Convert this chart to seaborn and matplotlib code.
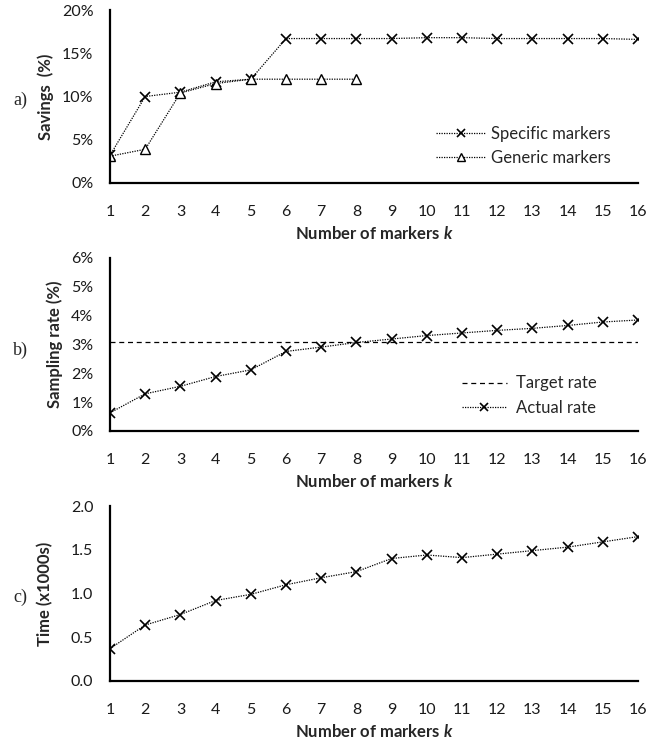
import numpy as np
import pandas as pd
import matplotlib
matplotlib.use("Agg")
import matplotlib.pyplot as plt
from matplotlib.lines import Line2D
from matplotlib.ticker import PercentFormatter, MultipleLocator, FormatStrFormatter
import seaborn as sns

# Données
k = list(range(1, 17))
specific_savings = [3.2, 10.0, 10.5, 11.7, 12.0, 16.7, 16.7, 16.7, 16.7, 16.8, 16.8, 16.7, 16.7, 16.7, 16.7, 16.6]
k_generic = list(range(1, 9))
generic_savings = [3.1, 3.9, 10.4, 11.5, 12.0, 12.0, 12.0, 12.0]
target_rate = 3.1
actual_rate = [0.63, 1.29, 1.55, 1.89, 2.12, 2.76, 2.91, 3.07, 3.19, 3.31, 3.40, 3.49, 3.56, 3.66, 3.78, 3.85]
time_k = [0.37, 0.64, 0.76, 0.92, 0.99, 1.10, 1.18, 1.25, 1.40, 1.44, 1.41, 1.45, 1.49, 1.53, 1.59, 1.65]

sns.set_theme(style="white")
plt.rcParams['font.family'] = ['Lato', 'DejaVu Sans']
plt.rcParams['mathtext.fontset'] = 'custom'
plt.rcParams['mathtext.bf'] = 'Lato:bold'
plt.rcParams['mathtext.bfit'] = 'Lato:bold:italic'

dotted = (0, (1, 1))
dashed = (0, (4, 3))
fig = plt.figure(figsize=(6.62, 7.41), dpi=100)

W, H = 662, 741
def add_axes(top, bottom, left=110, right=638):
    return fig.add_axes([left / W, (H - bottom) / H, (right - left) / W, (bottom - top) / H])

ax_a = add_axes(10, 183)
ax_b = add_axes(258, 431)
ax_c = add_axes(506, 681)

def style_axis(ax, ymax, ystep, ylabel, lab_x):
    ax.set_xlim(1, 16)
    ax.set_ylim(0, ymax)
    ax.xaxis.set_major_locator(MultipleLocator(1))
    ax.yaxis.set_major_locator(MultipleLocator(ystep))
    for s in ['top', 'right']:
        ax.spines[s].set_visible(False)
    for s in ['left', 'bottom']:
        ax.spines[s].set_color('black')
        ax.spines[s].set_linewidth(1.6)
    ax.tick_params(axis='both', direction='in', length=4, width=1, color='black',
                   labelsize=11.5, labelcolor='#1a1a1a')
    ax.tick_params(axis='x', pad=15.5)
    ax.tick_params(axis='y', pad=12)
    ax.set_xlabel(r"Number of markers $\mathbfit{k}$", fontsize=12, fontweight='bold', labelpad=5)
    ax.set_ylabel(ylabel, fontsize=12, fontweight='bold')
    ax.yaxis.set_label_coords(lab_x, 0.5)
    ax.grid(False)

line_kw = dict(color='black', linestyle=dotted, linewidth=0.9)
x_kw = dict(marker='x', markersize=7, markeredgewidth=1.2, markeredgecolor='black')

# a) Savings
sns.lineplot(x=k, y=specific_savings, ax=ax_a, **line_kw, **x_kw)
sns.lineplot(x=k_generic, y=generic_savings, ax=ax_a, **line_kw,
             marker='^', markersize=7, markerfacecolor='white', markeredgewidth=1.0, markeredgecolor='black')
style_axis(ax_a, 20, 5, "Savings  (%)", -0.106)
ax_a.yaxis.set_major_formatter(PercentFormatter(decimals=0))
h_a = [Line2D([], [], **line_kw, marker='x', markersize=6, markeredgewidth=1.2),
       Line2D([], [], **line_kw, marker='^', markersize=6, markerfacecolor='white', markeredgewidth=1.0)]
ax_a.legend(h_a, ["Specific markers", "Generic markers"], loc='center left', bbox_to_anchor=(0.602, 0.215),
            frameon=False, fontsize=12, handlelength=3.0, handletextpad=0.3, borderpad=0, labelspacing=0.5)

# b) Sampling rate
ax_b.axhline(target_rate, color='black', linestyle=dashed, linewidth=0.9)
sns.lineplot(x=k, y=actual_rate, ax=ax_b, **line_kw, **x_kw)
style_axis(ax_b, 6, 1, "Sampling rate (%)", -0.089)
ax_b.yaxis.set_major_formatter(PercentFormatter(decimals=0))
h_b = [Line2D([], [], color='black', linestyle=dashed, linewidth=0.9),
       Line2D([], [], **line_kw, marker='x', markersize=6, markeredgewidth=1.2)]
ax_b.legend(h_b, ["Target rate", "Actual rate"], loc='center left', bbox_to_anchor=(0.65, 0.205),
            frameon=False, fontsize=12, handlelength=2.7, handletextpad=0.55, borderpad=0, labelspacing=0.5)

# c) Time
sns.lineplot(x=k, y=time_k, ax=ax_c, **line_kw, **x_kw)
style_axis(ax_c, 2.0, 0.5, "Time (x1000s)", -0.108)
ax_c.yaxis.set_major_formatter(FormatStrFormatter('%.1f'))

for lab, y in [("a)", 100), ("b)", 350), ("c)", 597)]:
    fig.text(20 / W, 1 - y / H, lab, fontsize=13, family='Liberation Serif', ha='center', va='center')

fig.savefig("out.png", dpi=100)
